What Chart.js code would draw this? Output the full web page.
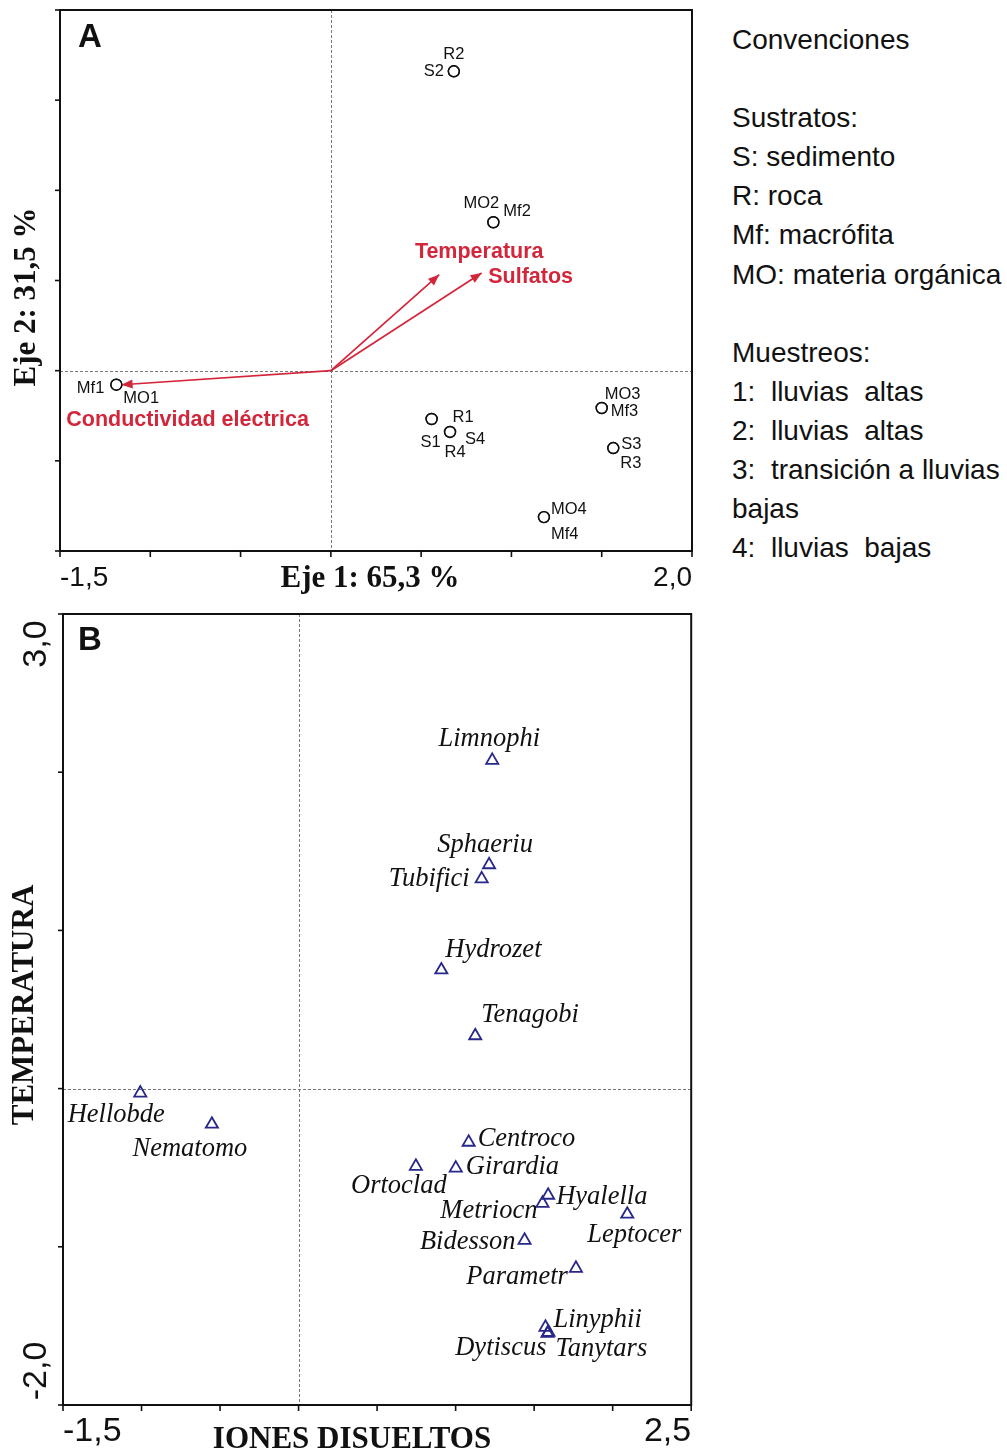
<!DOCTYPE html>
<html><head><meta charset="utf-8">
<script src="https://cdn.jsdelivr.net/npm/chart.js@4.4.1/dist/chart.umd.min.js"></script>
<style>
html,body{margin:0;padding:0;background:#fff;}
body{width:1007px;height:1454px;position:relative;overflow:hidden;}
#ca{position:absolute;left:0;top:0;}
#cb{position:absolute;left:0;top:600px;}
#legend{position:absolute;left:732px;top:20px;font-family:'Liberation Sans',Arial,sans-serif;font-size:28px;line-height:39.1px;color:#111;white-space:pre;}
</style></head><body>
<canvas id="ca" width="700" height="600"></canvas>
<canvas id="cb" width="700" height="854"></canvas>
<div id="legend"></div>
<script>
// ---------- Panel A data ----------
const sampleNames = ['S1','R1','Mf1','MO1','S2','R2','Mf2','MO2','S3','R3','Mf3','MO3','S4','R4','Mf4','MO4'];
const sampleX = [0.558,0.558,-1.188,-1.188,0.681,0.681,0.90,0.90,1.564,1.564,1.50,1.50,0.66,0.66,1.18,1.18];
const sampleY = [-0.268,-0.268,-0.078,-0.078,1.66,1.66,0.823,0.823,-0.429,-0.429,-0.207,-0.207,-0.34,-0.34,-0.812,-0.812];
const envNames = ['Conductividad eléctrica','Temperatura','Sulfatos'];
const envX = [-1.159,0.60,0.835];
const envY = [-0.078,0.532,0.542];
const xTicksA = [-1.5,-1.0,-0.5,0,0.5,1.0,1.5,2.0];
const yTicksA = [-1.0,-0.5,0,0.5,1.0,1.5,2.0];
const xTickLabelsA = ['-1,5','2,0'];
const xAxisTitleA = 'Eje 1: 65,3 %';
const yAxisTitleA = 'Eje 2: 31,5 %';

// ---------- Panel B data ----------
const speciesNames = ['Limnophi','Sphaeriu','Tubifici','Hydrozet','Tenagobi','Hellobde','Nematomo','Centroco','Ortoclad','Girardia','Hyalella','Metriocn','Leptocer','Bidesson','Parametr','Linyphii','Dytiscus','Tanytars'];
const speciesX = [1.233,1.213,1.166,0.909,1.125,-1.008,-0.552,1.083,0.747,1.001,1.589,1.553,2.093,1.439,1.766,1.572,1.585,1.591];
const speciesY = [2.075,1.415,1.326,0.75,0.334,-0.028,-0.225,-0.339,-0.491,-0.503,-0.674,-0.725,-0.794,-0.959,-1.136,-1.509,-1.547,-1.541];
const xTicksB = [-1.5,-1.0,-0.5,0,0.5,1.0,1.5,2.0,2.5];
const yTicksB = [-2,-1,0,1,2,3];
const xTickLabelsB = ['-1,5','2,5'];
const yTickLabelsB = ['3,0','-2,0'];
const xAxisTitleB = 'IONES DISUELTOS';
const yAxisTitleB = 'TEMPERATURA';

const legendLines = ['Convenciones','','Sustratos:','S: sedimento','R: roca','Mf: macrófita','MO: materia orgánica','','Muestreos:','1:  lluvias  altas','2:  lluvias  altas','3:  transición a lluvias','bajas','4:  lluvias  bajas'];

// ---------- layout / style (not data) ----------
const labelLayoutA = [[-1,23,'c'],[21,-2,'l'],[-12,4,'r'],[7,14,'l'],[-10,0,'r'],[0,-17,'c'],[10,-11,'l'],[-12,-19,'c'],[8,-4,'l'],[7,15,'l'],[9,3,'l'],[3,-14,'l'],[15,7,'l'],[5,20,'c'],[7,17,'l'],[7,-8,'l']];
const envLayout = [[66,35,'c'],[40,-23,'c'],[49,4,'c']];
const speciesLayout = [[-3,-21,'c'],[-4,-20,'c'],[-12,0,'r'],[4,-20,'l'],[6,-21,'l'],[-24,22,'c'],[-22,25,'c'],[9,-3,'l'],[-17,20,'c'],[10,-1,'l'],[8,2,'l'],[-5,8,'r'],[7,21,'c'],[-9,2,'r'],[-8,9,'r'],[8,-7,'l'],[-1,15,'r'],[7,17,'l']];

const RED = '#d3263a';
const NAVY = '#28288a';
const SANS = "'Liberation Sans', Arial, sans-serif";
const SERIF = "'Liberation Serif', 'Times New Roman', serif";

document.getElementById('legend').textContent = legendLines.join('\n');

function txt(ctx, s, x, y, font, color, align, rot) {
  ctx.save();
  ctx.font = font; ctx.fillStyle = color;
  ctx.textAlign = align === 'l' ? 'left' : align === 'r' ? 'right' : 'center';
  ctx.textBaseline = 'middle';
  ctx.translate(x, y);
  if (rot) ctx.rotate(rot);
  ctx.fillText(s, 0, 0);
  ctx.restore();
}

function framePlugin(cfg) {
  return {
    id: 'frame' + cfg.id,
    beforeDatasetsDraw(chart) {
      const ctx = chart.ctx, a = chart.chartArea, xs = chart.scales.x, ys = chart.scales.y;
      ctx.save();
      ctx.strokeStyle = '#777'; ctx.lineWidth = 1; ctx.setLineDash([3, 2]);
      const x0 = Math.round(xs.getPixelForValue(0)) + 0.5, y0 = Math.round(ys.getPixelForValue(0)) + 0.5;
      ctx.beginPath(); ctx.moveTo(x0, a.top); ctx.lineTo(x0, a.bottom); ctx.stroke();
      ctx.beginPath(); ctx.moveTo(a.left, y0); ctx.lineTo(a.right, y0); ctx.stroke();
      ctx.restore();
    },
    afterDatasetsDraw(chart) {
      const ctx = chart.ctx, a = chart.chartArea, xs = chart.scales.x, ys = chart.scales.y;
      ctx.save();
      ctx.strokeStyle = '#111'; ctx.lineWidth = 2; ctx.setLineDash([]);
      ctx.strokeRect(a.left, a.top, a.right - a.left, a.bottom - a.top);
      ctx.lineWidth = 1.6;
      cfg.xTicks.forEach(v => { const p = xs.getPixelForValue(v); ctx.beginPath(); ctx.moveTo(p, a.bottom); ctx.lineTo(p, a.bottom + 6); ctx.stroke(); });
      cfg.yTicks.forEach(v => { const p = ys.getPixelForValue(v); ctx.beginPath(); ctx.moveTo(a.left, p); ctx.lineTo(a.left - 5, p); ctx.stroke(); });
      ctx.restore();
      cfg.draw(chart, ctx, a, xs, ys);
    }
  };
}

function arrowHead(ctx, x0, y0, x1, y1, color) {
  const ang = Math.atan2(y1 - y0, x1 - x0), L = 11, W = 4.5;
  ctx.save(); ctx.fillStyle = color;
  ctx.beginPath();
  ctx.moveTo(x1, y1);
  ctx.lineTo(x1 - L * Math.cos(ang) + W * Math.sin(ang), y1 - L * Math.sin(ang) - W * Math.cos(ang));
  ctx.lineTo(x1 - L * Math.cos(ang) - W * Math.sin(ang), y1 - L * Math.sin(ang) + W * Math.cos(ang));
  ctx.closePath(); ctx.fill(); ctx.restore();
}

function baseOptions(xmin, xmax, ymin, ymax, pad) {
  return {
    responsive: false, animation: false, events: [],
    layout: { padding: pad },
    plugins: { legend: { display: false }, tooltip: { enabled: false } },
    scales: {
      x: { type: 'linear', min: xmin, max: xmax, display: false },
      y: { type: 'linear', min: ymin, max: ymax, display: false }
    }
  };
}

// ---------- Chart A ----------
const arrowSets = envNames.map((n, i) => ({
  type: 'scatter', label: n, data: [{ x: 0, y: 0 }, { x: envX[i], y: envY[i] }],
  showLine: true, borderColor: RED, borderWidth: 1.7, pointRadius: 0, order: 2
}));
new Chart(document.getElementById('ca'), {
  type: 'scatter',
  data: {
    datasets: [
      { label: 'muestras', data: sampleX.map((x, i) => ({ x, y: sampleY[i] })),
        pointStyle: 'circle', pointRadius: 5.5, borderColor: '#111', backgroundColor: 'rgba(0,0,0,0)', borderWidth: 1.4, order: 1 },
      ...arrowSets
    ]
  },
  options: baseOptions(-1.5, 2.0, -1.0, 2.0, { left: 60, top: 10, right: 8, bottom: 49 }),
  plugins: [framePlugin({
    id: 'A', xTicks: xTicksA, yTicks: yTicksA,
    draw(chart, ctx, a, xs, ys) {
      const ox = xs.getPixelForValue(0), oy = ys.getPixelForValue(0);
      envNames.forEach((n, i) => {
        const tx = xs.getPixelForValue(envX[i]), ty = ys.getPixelForValue(envY[i]);
        arrowHead(ctx, ox, oy, tx, ty, RED);
        const L = envLayout[i];
        txt(ctx, n, tx + L[0], ty + L[1], 'bold 21.5px ' + SANS, RED, L[2]);
      });
      sampleNames.forEach((n, i) => {
        const px = xs.getPixelForValue(sampleX[i]), py = ys.getPixelForValue(sampleY[i]);
        const L = labelLayoutA[i];
        txt(ctx, n, px + L[0], py + L[1], '16.5px ' + SANS, '#111', L[2]);
      });
      txt(ctx, 'A', a.left + 30, a.top + 28, 'bold 33px ' + SANS, '#111', 'c');
      txt(ctx, xTickLabelsA[0], xs.getPixelForValue(xTicksA[0]), a.bottom + 27, '28px ' + SANS, '#111', 'l');
      txt(ctx, xTickLabelsA[1], xs.getPixelForValue(xTicksA[xTicksA.length - 1]), a.bottom + 27, '28px ' + SANS, '#111', 'r');
      txt(ctx, xAxisTitleA, 370, a.bottom + 28, 'bold 31px ' + SERIF, '#111', 'c');
      txt(ctx, yAxisTitleA, 27, 297, 'bold 31px ' + SERIF, '#111', 'c', -Math.PI / 2);
    }
  })]
});

// ---------- Chart B ----------
new Chart(document.getElementById('cb'), {
  type: 'scatter',
  data: {
    datasets: [
      { label: 'taxones', data: speciesX.map((x, i) => ({ x, y: speciesY[i] })),
        pointStyle: 'triangle', pointRadius: 7, borderColor: NAVY, backgroundColor: 'rgba(0,0,0,0)', borderWidth: 1.8 }
    ]
  },
  options: baseOptions(-1.5, 2.5, -2.0, 3.0, { left: 63, top: 14, right: 6, bottom: 49 }),
  plugins: [framePlugin({
    id: 'B', xTicks: xTicksB, yTicks: yTicksB,
    draw(chart, ctx, a, xs, ys) {
      speciesNames.forEach((n, i) => {
        const px = xs.getPixelForValue(speciesX[i]), py = ys.getPixelForValue(speciesY[i]);
        const L = speciesLayout[i];
        txt(ctx, n, px + L[0], py + L[1], 'italic 26.5px ' + SERIF, '#111', L[2]);
      });
      txt(ctx, 'B', a.left + 27, a.top + 27, 'bold 33px ' + SANS, '#111', 'c');
      txt(ctx, xTickLabelsB[0], xs.getPixelForValue(xTicksB[0]), a.bottom + 27, '34px ' + SANS, '#111', 'l');
      txt(ctx, xTickLabelsB[1], xs.getPixelForValue(xTicksB[xTicksB.length - 1]), a.bottom + 27, '34px ' + SANS, '#111', 'r');
      txt(ctx, yTickLabelsB[0], 37, ys.getPixelForValue(yTicksB[yTicksB.length - 1]) + 30, '34px ' + SANS, '#111', 'c', -Math.PI / 2);
      txt(ctx, yTickLabelsB[1], 37, ys.getPixelForValue(yTicksB[0]) - 34, '34px ' + SANS, '#111', 'c', -Math.PI / 2);
      txt(ctx, xAxisTitleB, 352, a.bottom + 35, 'bold 31px ' + SERIF, '#111', 'c');
      txt(ctx, yAxisTitleB, 25, 405, 'bold 31px ' + SERIF, '#111', 'c', -Math.PI / 2);
    }
  })]
});
</script>
</body></html>
